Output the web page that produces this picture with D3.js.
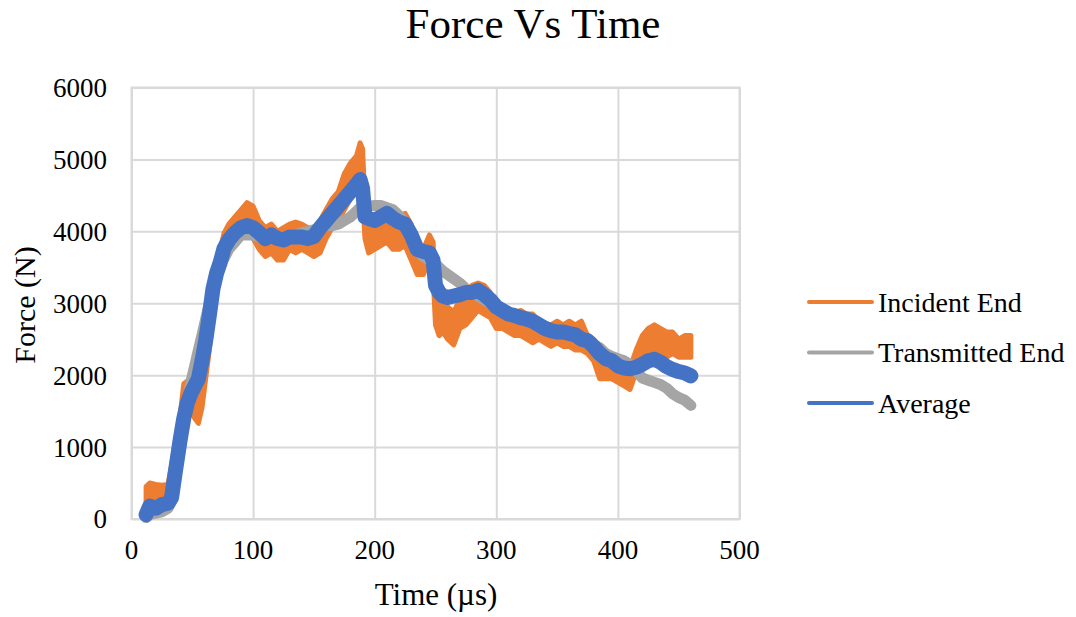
<!DOCTYPE html>
<html>
<head>
<meta charset="utf-8">
<script src="https://cdn.jsdelivr.net/npm/d3@7"></script>
<style>
  body { margin: 0; background: #fff; }
  text { font-family: "Liberation Serif", "Times New Roman", serif; fill: #000; }
</style>
</head>
<body>
<div id="chart"></div>
<script>
// time samples (µs)
const times = [12, 15, 20, 25, 30, 33, 36, 40, 43, 46, 49, 52, 55, 58, 61, 64, 67, 70, 73, 76, 80, 85, 90, 95, 100,
  105, 110, 115, 120, 125, 130, 135, 140, 145, 150, 155, 160, 165, 170, 175, 180, 185, 188, 190, 192, 195, 200,
  205, 210, 215, 220, 225, 230, 235, 240, 245, 248, 250, 253, 256, 260, 265, 270, 275, 280, 285, 290, 295, 300,
  305, 310, 315, 320, 325, 330, 335, 340, 345, 350, 355, 360, 365, 370, 375, 380, 385, 390, 395, 400,
  405, 410, 415, 420, 425, 430, 435, 440, 445, 450, 455, 460];

// incident end: noisy, so kept as low / high envelope
const incidentLo = [50, 200, 200, 180, 200, 350, 650, 1150, 1550, 1600, 1500, 1400, 1330, 1550, 1950, 2350, 2800, 3250, 3500, 3700, 3800, 3900, 3980, 4050, 3900,
  3750, 3650, 3700, 3600, 3600, 3750, 3700, 3750, 3700, 3650, 3700, 3900, 4050, 4150, 4300, 4450, 4550, 4700, 4500, 3900, 3700, 3750,
  3800, 3850, 3750, 3750, 3800, 3600, 3400, 3400, 3600, 3400, 2700, 2550, 2600, 2500, 2420, 2650, 2700, 2800, 2900, 2850, 2800, 2650,
  2650, 2600, 2550, 2550, 2500, 2450, 2500, 2450, 2400, 2450, 2400, 2400, 2350, 2350, 2300, 2200, 1950, 1950, 1950, 1900,
  1850, 1800, 2050, 2250, 2350, 2300, 2300, 2250, 2300, 2250, 2250, 2250];
const incidentHi = [450, 500, 480, 470, 480, 750, 1050, 1450, 1880, 1920, 1850, 1750, 1650, 1950, 2300, 2700, 3150, 3550, 3750, 3970, 4100, 4200, 4300, 4400, 4350,
  4150, 4050, 4100, 4000, 4050, 4100, 4130, 4100, 4050, 4000, 4150, 4300, 4450, 4550, 4800, 4950, 5050, 5230, 5150, 4400, 4050, 4100,
  4150, 4200, 4050, 4200, 4250, 4100, 3800, 3750, 3950, 3850, 3200, 3100, 3050, 2950, 2880, 3050, 3150, 3250, 3280, 3250, 3150, 3000,
  2950, 2900, 2850, 2900, 2850, 2850, 2750, 2700, 2700, 2750, 2700, 2750, 2700, 2750, 2550, 2500, 2400, 2300, 2250, 2250,
  2150, 2100, 2350, 2550, 2650, 2700, 2650, 2600, 2600, 2500, 2550, 2550];

const transmitted = [20, 60, 80, 100, 150, 250, 550, 960, 1280, 1600, 1920, 2130, 2350, 2560, 2780, 3000, 3200, 3400, 3560, 3620, 3750, 3850, 3950, 3950, 3950,
  3920, 3900, 3920, 3900, 3900, 3950, 3950, 3980, 4000, 4020, 4050, 4080, 4080, 4100, 4150, 4200, 4280, 4330, 4330, 4350, 4350, 4360,
  4360, 4330, 4300, 4220, 4120, 3900, 3750, 3650, 3600, 3550, 3550, 3500, 3450, 3400, 3340, 3280, 3200, 3150, 3100, 3050, 3000, 2950,
  2900, 2870, 2850, 2800, 2780, 2750, 2720, 2680, 2650, 2620, 2600, 2570, 2550, 2500, 2470, 2420, 2380, 2300, 2260, 2230,
  2200, 2150, 2060, 1960, 1930, 1900, 1870, 1820, 1740, 1690, 1650, 1580];

const average = [60, 180, 150, 200, 220, 300, 650, 1100, 1400, 1620, 1750, 1850, 1950, 2200, 2480, 2830, 3200, 3420, 3570, 3760, 3880, 3980, 4050, 4080, 4050,
  3980, 3900, 3950, 3900, 3880, 3920, 3920, 3920, 3900, 3930, 4050, 4150, 4250, 4350, 4450, 4550, 4650, 4720, 4600, 4200, 4180, 4150,
  4200, 4250, 4180, 4130, 4100, 3950, 3750, 3720, 3700, 3600, 3250, 3150, 3100, 3080, 3100, 3120, 3150, 3150, 3180, 3120, 3050, 2950,
  2900, 2850, 2830, 2800, 2780, 2750, 2700, 2650, 2620, 2600, 2600, 2580, 2560, 2500, 2480, 2400, 2300, 2230, 2200, 2130,
  2100, 2090, 2110, 2150, 2200, 2220, 2180, 2120, 2080, 2050, 2030, 1990];

const xTicks = [0, 100, 200, 300, 400, 500];
const yTicks = [0, 1000, 2000, 3000, 4000, 5000, 6000];
const seriesNames = ["Incident End", "Transmitted End", "Average"];
const seriesColors = ["#ED7D31", "#A5A5A5", "#4472C4"];

const width = 1076, height = 617;
const plot = { left: 131.5, right: 739.5, top: 87.5, bottom: 519 };

const svg = d3.select("#chart").append("svg")
  .attr("width", width)
  .attr("height", height);

const x = d3.scaleLinear().domain([0, 500]).range([plot.left, plot.right]);
const y = d3.scaleLinear().domain([0, 6000]).range([plot.bottom, plot.top]);

// grid
svg.append("g")
  .attr("transform", `translate(0,${plot.bottom})`)
  .call(d3.axisBottom(x).tickValues(xTicks).tickSize(-(plot.bottom - plot.top)).tickFormat(""))
  .call(g => g.select(".domain").remove())
  .selectAll("line").attr("stroke", "#d9d9d9").attr("stroke-width", 2);

svg.append("g")
  .attr("transform", `translate(${plot.left},0)`)
  .call(d3.axisLeft(y).tickValues(yTicks).tickSize(-(plot.right - plot.left)).tickFormat(""))
  .call(g => g.select(".domain").remove())
  .selectAll("line").attr("stroke", "#d9d9d9").attr("stroke-width", 2);

svg.append("rect")
  .attr("x", plot.left).attr("y", plot.top)
  .attr("width", plot.right - plot.left).attr("height", plot.bottom - plot.top)
  .attr("fill", "none").attr("stroke", "#d9d9d9").attr("stroke-width", 2);

// tick labels
svg.append("g").selectAll("text")
  .data(xTicks).enter().append("text")
  .attr("x", d => x(d)).attr("y", 559)
  .attr("text-anchor", "middle")
  .attr("font-size", 27)
  .text(d => d);

svg.append("g").selectAll("text")
  .data(yTicks).enter().append("text")
  .attr("x", 107).attr("y", d => y(d))
  .attr("dy", "0.35em")
  .attr("text-anchor", "end")
  .attr("font-size", 27)
  .text(d => d);

// series
const pts = times.map((t, i) => ({ t, lo: incidentLo[i], hi: incidentHi[i], tr: transmitted[i], av: average[i] }));

svg.append("path")
  .datum(pts)
  .attr("fill", seriesColors[0])
  .attr("stroke", seriesColors[0])
  .attr("stroke-width", 5)
  .attr("stroke-linejoin", "round")
  .attr("d", d3.area().x(d => x(d.t)).y0(d => y(d.lo)).y1(d => y(d.hi)));

svg.append("path")
  .datum(pts)
  .attr("fill", "none")
  .attr("stroke", seriesColors[1])
  .attr("stroke-width", 11)
  .attr("stroke-linejoin", "round")
  .attr("stroke-linecap", "round")
  .attr("d", d3.line().x(d => x(d.t)).y(d => y(d.tr)));

svg.append("path")
  .datum(pts)
  .attr("fill", "none")
  .attr("stroke", seriesColors[2])
  .attr("stroke-width", 15)
  .attr("stroke-linejoin", "round")
  .attr("stroke-linecap", "round")
  .attr("d", d3.line().x(d => x(d.t)).y(d => y(d.av)));

// titles
svg.append("text")
  .attr("x", 533).attr("y", 38)
  .attr("text-anchor", "middle")
  .attr("font-size", 43)
  .text("Force Vs Time");

svg.append("text")
  .attr("x", 436).attr("y", 605)
  .attr("text-anchor", "middle")
  .attr("font-size", 31)
  .text("Time (µs)");

svg.append("text")
  .attr("transform", "translate(35,305) rotate(-90)")
  .attr("text-anchor", "middle")
  .attr("font-size", 30)
  .text("Force (N)");

// legend
const legend = svg.append("g").selectAll("g")
  .data(seriesNames).enter().append("g")
  .attr("transform", (d, i) => `translate(809,${302 + i * 50.5})`);

legend.append("line")
  .attr("x1", 0).attr("x2", 63)
  .attr("stroke", (d, i) => seriesColors[i])
  .attr("stroke-width", 4)
  .attr("stroke-linecap", "round");

legend.append("text")
  .attr("x", 69).attr("dy", "0.35em")
  .attr("font-size", 28)
  .text(d => d);
</script>
</body>
</html>
